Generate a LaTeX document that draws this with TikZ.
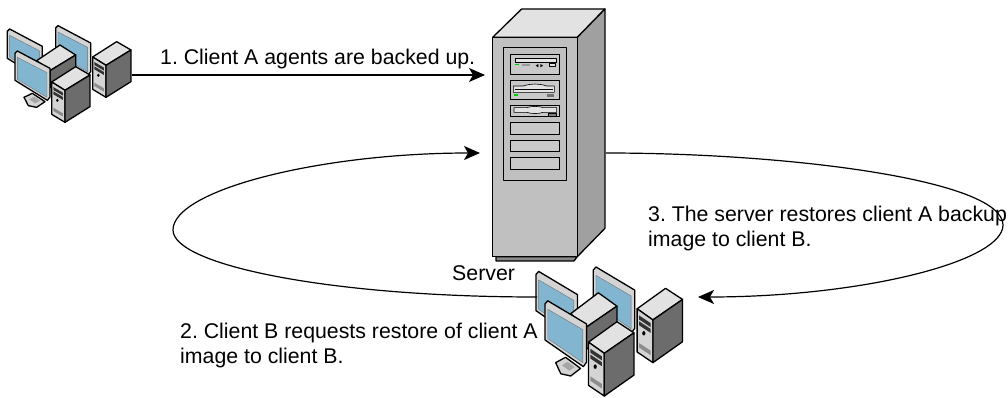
\documentclass[tikz,border=0pt]{standalone}
\usepackage{fontspec}
\setmainfont{Liberation Sans}
\usetikzlibrary{arrows.meta}
\definecolor{scr}{HTML}{82B5CF}
\definecolor{bez}{HTML}{D4D4D4}
\definecolor{topc}{HTML}{E2E2E2}
\definecolor{lft}{HTML}{C9C9C9}
\definecolor{drk}{HTML}{6C6C6C}
\definecolor{srvf}{HTML}{C0C0C0}
\definecolor{srvs}{HTML}{A0A0A0}
\tikzset{
  outl/.style={draw=black,line width=1.3pt,line join=round},
  thin outl/.style={draw=black,line width=.6pt,line join=round},
  scrn/.style={draw=black!55,line width=.4pt,line join=round,fill=scr},
  conn/.style={draw=black,line width=1.2pt},
  arr/.style={conn,-{Stealth[length=16pt,width=14pt,inset=4pt]}},
  lbl/.style={font=\fontsize{21.3}{24}\selectfont,anchor=base west,inner sep=0pt,text=black},
  hotspot/.style={inner sep=0pt,draw=none,fill=none}
}
\newcommand{\towerpc}[2]{%
  \begin{scope}[shift={(#1,#2)}]
    \path[outl,fill=topc] (0,0)--(72,-46)--(115,-21)--(40,25)--cycle;
    \path[outl,fill=bez] (0,0)--(40,25)--(40,121)--(0,97)--cycle;
    \path[outl,fill=drk] (40,25)--(115,-21)--(115,74)--(40,121)--cycle;
    \fill[black!80] (5,15)--(34,32)--(34,41)--(5,24)--cycle;
    \fill[black!80] (5,28)--(34,45)--(34,54)--(5,37)--cycle;
    \fill[black] (17,55) circle[x radius=4,y radius=5];
    \fill[black!45] (5,77)--(34,94)--(34,104)--(5,87)--cycle;
  \end{scope}}
\newcommand{\monitorpc}[2]{%
  \begin{scope}[shift={(#1,#2)}]
    \path[outl,fill=bez] (0,7)--(7,0)--(105,52)--(105,138)--(97,148)--(0,88)--cycle;
    \path[scrn] (7,19)--(96,65)--(96,139)--(7,85)--cycle;
  \end{scope}}
\newcommand{\clientgroup}{%
  \monitorpc{22}{87}
  \monitorpc{167}{77}
  \path[outl,fill=topc] (110,182)--(180,135)--(227,165)--(150,212)--cycle;
  \path[outl,fill=drk] (150,212)--(227,165)--(227,215)--(150,262)--cycle;
  \towerpc{278}{171}
  \path[outl,fill=bez] (72,292)--(97,280)--(135,305)--(110,322)--(85,317)--cycle;
  \path[fill=black!35] (88,298)--(102,290)--(120,302)--(106,310)--cycle;
  \monitorpc{45}{153}
  \towerpc{155}{246}}
\begin{document}
\frenchspacing
\begin{tikzpicture}[x=1pt,y=-1pt]
\useasboundingbox[fill=white] (0,0) rectangle (1008,398);
% client A
\begin{scope}[shift={(0,0)},x=.3333pt,y=-.3333pt]
  \clientgroup
\end{scope}
\node[hotspot,minimum width=125pt,minimum height=98pt] (clientA) at (69.5,74) {};
% server
\begin{scope}[shift={(470,0)},x=.3333pt,y=-.3333pt]
  \path[outl,fill=srvs!85!black] (78,770)--(78,783)--(312,783)--(322,770)--cycle;
  \path[outl,fill=topc] (68,112)--(155,27)--(405,27)--(322,112)--cycle;
  \path[outl,fill=srvs] (322,112)--(405,27)--(405,685)--(322,770)--cycle;
  \path[draw=black,line width=1.3pt,fill=srvf] (68,112) rectangle (322,770);
  \path[thin outl,fill=srvf] (100,143) rectangle (290,542);
  \path[thin outl,fill=lft] (122,163) rectangle (268,222);
  \path[thin outl,fill=topc] (135,175) rectangle (258,187);
  \fill[green!80!black] (135,193) rectangle (147,196);
  \fill[black!40] (157,193) rectangle (180,197);
  \fill[black] (197,197)--(205,192)--(205,202)--cycle (219,197)--(211,192)--(211,202)--cycle;
  \path[thin outl,fill=topc] (238,191) rectangle (257,200);
  \path[thin outl,fill=lft] (122,240) rectangle (268,298);
  \path[thin outl,fill=topc] (130,258) -- (160,258) .. controls (185,250) and (205,250) .. (230,258) -- (253,258) -- (253,277) -- (130,277) -- cycle;
  \draw[line width=1.2pt] (135,268) -- (248,268);
  \fill[green!80!black] (132,283) rectangle (143,288);
  \fill[black!55] (230,282) rectangle (253,290);
  \path[thin outl,fill=lft] (122,315) rectangle (268,350);
  \path[thin outl,fill=topc] (132,323) -- (170,323) .. controls (185,318) and (205,318) .. (220,323) -- (260,323) -- (260,337) -- (220,337) .. controls (205,342) and (185,342) .. (170,337) -- (132,337) -- cycle;
  \path[thin outl,fill=black!50] (235,340) rectangle (258,348);
  \path[thin outl,fill=lft] (122,367) rectangle (268,403);
  \path[thin outl,fill=lft] (122,420) rectangle (268,455);
  \path[thin outl,fill=lft] (122,472) rectangle (268,508);
\end{scope}
\node[hotspot,minimum width=113pt,minimum height=254pt] (server) at (549,135) {};
% client B
\begin{scope}[shift={(527.2,232.7)},x=.3953pt,y=-.445pt]
  \clientgroup
\end{scope}
\node[hotspot,minimum width=147pt,minimum height=131pt] (clientB) at (610,331.5) {};
% connector ends
\coordinate (in1) at (485,75);
\coordinate (in2) at (480,153);
\coordinate (out3) at (606,153);
\coordinate (b2) at (537,297);
\coordinate (b3) at (698,297);
\draw[arr] (clientA.east |- in1) -- (in1);
\draw[arr] (b2) .. controls (330,297) and (173,265) .. (173,230) .. controls (173,190) and (320,153) .. (in2);
\draw[arr] (out3) .. controls (790,153) and (1003,180) .. (1003,225) .. controls (1003,262) and (860,297) .. (b3);
% labels
\node[lbl] (l1) at (160,65) {1. Client A agents are backed up.};
\node[lbl] (l3a) at (648,221) {3. The server restores client A backup};
\node[lbl] (l3b) at (648,246) {image to client B.};
\node[lbl] (ls) at (452,280) {Server};
\node[lbl] (l2a) at (180,338) {2. Client B requests restore of client A};
\node[lbl] (l2b) at (180,363) {image to client B.};
\end{tikzpicture}
\end{document}
